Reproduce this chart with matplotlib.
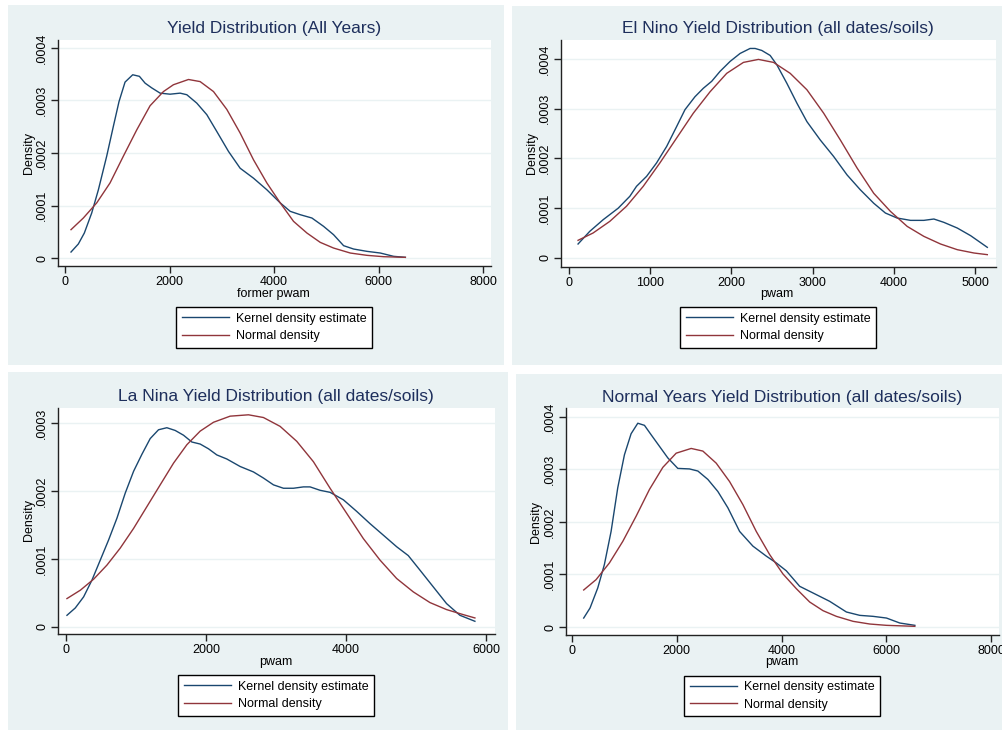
import matplotlib
matplotlib.use("Agg")
import matplotlib.pyplot as plt
from matplotlib.patches import Rectangle
from matplotlib.ticker import FixedLocator, FixedFormatter

plt.rcParams['font.family'] = ['Liberation Sans', 'DejaVu Sans']

W, H = 1003, 730

# ---------------- data ----------------
titles = ["Yield Distribution (All Years)",
          "El Nino Yield Distribution (all dates/soils)",
          "La Nina Yield Distribution (all dates/soils)",
          "Normal Years Yield Distribution (all dates/soils)"]
xlabels = ["former pwam", "pwam", "pwam", "pwam"]
legend_labels = ["Kernel density estimate", "Normal density"]

xticks1 = [0, 2000, 4000, 6000, 8000]
xticks2 = [0, 1000, 2000, 3000, 4000, 5000]
xticks3 = [0, 2000, 4000, 6000]
xticks4 = [0, 2000, 4000, 6000, 8000]
yticks4v = [0, 0.0001, 0.0002, 0.0003, 0.0004]
yticks4l = ["0", ".0001", ".0002", ".0003", ".0004"]
yticks3v = [0, 0.0001, 0.0002, 0.0003]
yticks3l = ["0", ".0001", ".0002", ".0003"]

# Panel 1: all years
kde1_x = [115, 255, 370, 511, 639, 798, 926, 1034, 1149, 1296, 1424, 1533, 1660, 1820,
          2011, 2203, 2331, 2522, 2714, 2905, 3129, 3352, 3608, 3863, 4119, 4310, 4502,
          4725, 4949, 5140, 5332, 5524, 5779, 6035, 6290, 6514]
kde1_y = [0.0000114, 0.0000267, 0.0000476, 0.0000857, 0.00013, 0.000194, 0.000251, 0.000298,
          0.000335, 0.000349, 0.000346, 0.000333, 0.000324, 0.000314, 0.000312, 0.000314,
          0.000311, 0.000295, 0.000273, 0.000241, 0.000203, 0.000171, 0.000152, 0.00013,
          0.000105, 0.0000889, 0.0000825, 0.0000762, 0.0000603, 0.0000444, 0.0000235,
          0.0000171, 0.0000127, 0.0000095, 0.0000032, 0.0000013]
nrm1_x = [115, 351, 607, 862, 1117, 1373, 1628, 1884, 2075, 2363, 2586, 2842, 3097, 3352,
          3608, 3863, 4119, 4374, 4630, 4885, 5140, 5460, 5779, 6099, 6514]
nrm1_y = [0.000054, 0.0000762, 0.000105, 0.000143, 0.000194, 0.000244, 0.00029, 0.000317,
          0.00033, 0.00034, 0.000336, 0.000317, 0.000283, 0.000238, 0.000187, 0.000143,
          0.000105, 0.0000698, 0.0000476, 0.0000298, 0.000019, 0.0000095, 0.0000051,
          0.0000025, 0.0000013]

# Panel 2: El Nino
kde2_x = [111, 255, 420, 605, 749, 831, 955, 1078, 1202, 1325, 1428, 1551, 1654, 1757, 1860,
          1984, 2107, 2230, 2292, 2374, 2477, 2560, 2683, 2807, 2930, 3095, 3259, 3424, 3588,
          3753, 3897, 4041, 4206, 4370, 4494, 4617, 4782, 4947, 5152]
kde2_y = [0.0000281, 0.0000535, 0.0000769, 0.0001, 0.000124, 0.000144, 0.000164, 0.000191,
          0.000224, 0.000264, 0.000298, 0.000324, 0.000341, 0.000355, 0.000375, 0.000395,
          0.000411, 0.000421, 0.000421, 0.000417, 0.000407, 0.000388, 0.000351, 0.000311,
          0.000274, 0.000237, 0.000204, 0.000167, 0.000137, 0.00011, 0.0000903, 0.0000803,
          0.0000756, 0.0000756, 0.0000783, 0.0000716, 0.0000602, 0.0000448, 0.0000214]
nrm2_x = [111, 296, 502, 708, 914, 1119, 1325, 1531, 1737, 1942, 2148, 2333, 2519, 2724, 2930,
          3136, 3342, 3547, 3753, 3959, 4165, 4370, 4576, 4782, 4988, 5152]
nrm2_y = [0.0000355, 0.0000502, 0.0000736, 0.000104, 0.000144, 0.000191, 0.000241, 0.000291,
          0.000334, 0.000371, 0.000393, 0.000399, 0.000393, 0.000371, 0.000338, 0.000291,
          0.000237, 0.000181, 0.00013, 0.0000936, 0.0000635, 0.0000435, 0.0000281,
          0.0000167, 0.00001, 0.0000067]

# Panel 3: La Nina
kde3_x = [14, 133, 252, 371, 490, 609, 728, 847, 966, 1085, 1203, 1322, 1441, 1560, 1679,
          1798, 1917, 2036, 2155, 2298, 2488, 2678, 2821, 2964, 3107, 3249, 3392, 3487, 3630,
          3773, 3963, 4153, 4343, 4534, 4724, 4890, 5057, 5247, 5437, 5628, 5842]
kde3_y = [0.0000172, 0.000028, 0.0000443, 0.0000689, 0.0000984, 0.000128, 0.00016, 0.000197,
          0.000229, 0.000254, 0.000277, 0.00029, 0.000293, 0.000289, 0.000282, 0.000272,
          0.000269, 0.000262, 0.000253, 0.000247, 0.000236, 0.000228, 0.000219, 0.000209,
          0.000204, 0.000204, 0.000206, 0.000206, 0.000201, 0.000198, 0.000187, 0.00017,
          0.000152, 0.000135, 0.000118, 0.000105, 0.0000836, 0.000059, 0.0000344,
          0.0000172, 0.0000084]
nrm3_x = [14, 205, 395, 585, 775, 966, 1156, 1346, 1537, 1727, 1917, 2107, 2345, 2607, 2821,
          3059, 3297, 3535, 3773, 4011, 4248, 4486, 4724, 4962, 5200, 5437, 5675, 5842]
nrm3_y = [0.0000418, 0.0000541, 0.0000703, 0.000091, 0.000116, 0.000145, 0.000177, 0.000209,
          0.000241, 0.000268, 0.000288, 0.000301, 0.00031, 0.000312, 0.000308, 0.000295,
          0.000273, 0.000243, 0.000204, 0.000167, 0.00013, 0.0000984, 0.0000713, 0.0000516,
          0.0000359, 0.0000256, 0.0000182, 0.0000133]

# Panel 4: normal years
kde4_x = [223, 344, 491, 618, 746, 873, 1001, 1128, 1256, 1383, 1511, 1670, 1829, 2020, 2243,
          2403, 2594, 2785, 2976, 3200, 3454, 3709, 3901, 4092, 4347, 4602, 4920, 5239, 5494,
          5749, 6004, 6259, 6546]
kde4_y = [0.0000171, 0.0000362, 0.0000743, 0.000119, 0.000182, 0.000265, 0.000328, 0.000368,
          0.000388, 0.000384, 0.000366, 0.000344, 0.000322, 0.000302, 0.000301, 0.000297,
          0.000281, 0.000258, 0.000227, 0.000182, 0.000154, 0.000135, 0.000122, 0.000107,
          0.0000775, 0.0000648, 0.0000489, 0.0000286, 0.0000222, 0.0000203, 0.0000171,
          0.0000076, 0.0000032]
nrm4_x = [223, 459, 714, 969, 1224, 1479, 1734, 1989, 2275, 2498, 2753, 3008, 3263, 3518,
          3773, 4028, 4283, 4538, 4793, 5048, 5367, 5686, 6004, 6546]
nrm4_y = [0.0000705, 0.0000902, 0.000122, 0.000163, 0.000211, 0.000262, 0.000304, 0.000331,
          0.00034, 0.000335, 0.000312, 0.000277, 0.000233, 0.000182, 0.000138, 0.000101,
          0.000073, 0.0000476, 0.0000311, 0.0000203, 0.0000108, 0.0000057, 0.0000032,
          0.0000013]

# ---------------- styling ----------------
BG = "#EAF2F3"
BLUE = "#1A476F"
RED = "#90353B"
TITLE_C = "#1E2F5C"
AX_C = "#222222"

fig = plt.figure(figsize=(W / 100, H / 100), dpi=100, facecolor="white")


def fx(px):
    return px / W


def fy(py):
    return 1 - py / H


# panel backgrounds (pixel boxes: left, top, right, bottom)
bg_boxes = [(8, 5, 504, 365), (512, 6, 1003, 365), (8, 372, 508, 730), (516, 374, 1003, 730)]
for (l, t, r, b) in bg_boxes:
    fig.patches.append(Rectangle((fx(l), fy(b)), fx(r - l), (b - t) / H,
                                 transform=fig.transFigure, facecolor=BG,
                                 edgecolor="none", zorder=-10))

panels = [
    dict(box=(58, 40, 491, 266), xlim=(-134, 8153), ylim=(-0.0000152, 0.0004152),
         xt=xticks1, yv=yticks4v, yl=yticks4l, kx=kde1_x, ky=kde1_y, nx=nrm1_x, ny=nrm1_y,
         title_xy=(274, 29), xlab_xy=(273, 294), ylab_xy=(29, 153), leg_xy=(274, 327.5)),
    dict(box=(561, 40, 996, 267), xlim=(-99, 5259), ylim=(-0.0000181, 0.000438),
         xt=xticks2, yv=yticks4v, yl=yticks4l, kx=kde2_x, ky=kde2_y, nx=nrm2_x, ny=nrm2_y,
         title_xy=(777.5, 29), xlab_xy=(777, 294), ylab_xy=(532, 153), leg_xy=(778, 327.5)),
    dict(box=(58, 408, 495, 634), xlim=(-114, 6129), ylim=(-0.0000103, 0.000322),
         xt=xticks3, yv=yticks3v, yl=yticks3l, kx=kde3_x, ky=kde3_y, nx=nrm3_x, ny=nrm3_y,
         title_xy=(275.5, 396), xlab_xy=(276, 662), ylab_xy=(29, 520), leg_xy=(276, 695.5)),
    dict(box=(566, 408, 999, 635), xlim=(-115, 8153), ylim=(-0.0000152, 0.000417),
         xt=xticks4, yv=yticks4v, yl=yticks4l, kx=kde4_x, ky=kde4_y, nx=nrm4_x, ny=nrm4_y,
         title_xy=(782, 397), xlab_xy=(782, 662), ylab_xy=(536, 522), leg_xy=(782, 696)),
]

for i, p in enumerate(panels):
    l, t, r, b = p["box"]
    ax = fig.add_axes([fx(l), fy(b), fx(r - l), (b - t) / H], zorder=1)
    ax.set_facecolor("white")
    ax.set_xlim(*p["xlim"])
    ax.set_ylim(*p["ylim"])
    for s in ["top", "right"]:
        ax.spines[s].set_visible(False)
    for s in ["left", "bottom"]:
        ax.spines[s].set_color(AX_C)
        ax.spines[s].set_linewidth(1.0)
    ax.xaxis.set_major_locator(FixedLocator(p["xt"]))
    ax.yaxis.set_major_locator(FixedLocator(p["yv"]))
    ax.yaxis.set_major_formatter(FixedFormatter(p["yl"]))
    ax.tick_params(axis="both", direction="out", length=5, width=1.0, color=AX_C,
                   labelsize=9, labelcolor="black", pad=2)
    for lab in ax.get_yticklabels():
        lab.set_rotation(90)
        lab.set_va("center")
    ax.grid(axis="y", color=BG, linewidth=1.0)
    ax.set_axisbelow(True)
    h1, = ax.plot(p["kx"], p["ky"], color=BLUE, lw=1.0, label=legend_labels[0])
    h2, = ax.plot(p["nx"], p["ny"], color=RED, lw=1.0, label=legend_labels[1])

    fig.text(fx(p["title_xy"][0]), fy(p["title_xy"][1]), titles[i], ha="center", va="center",
             fontsize=12.5, color=TITLE_C)
    fig.text(fx(p["xlab_xy"][0]), fy(p["xlab_xy"][1]), xlabels[i], ha="center", va="center",
             fontsize=9, color="black")
    fig.text(fx(p["ylab_xy"][0]), fy(p["ylab_xy"][1]), "Density", ha="center", va="center",
             rotation=90, fontsize=9, color="black")
    leg = fig.legend(handles=[h1, h2], loc="center",
                     bbox_to_anchor=(fx(p["leg_xy"][0]), fy(p["leg_xy"][1])),
                     bbox_transform=fig.transFigure, frameon=True, fancybox=False,
                     edgecolor="black", framealpha=1, fontsize=9, handlelength=3.75,
                     handletextpad=0.55, borderpad=0.45, labelspacing=0.45, borderaxespad=0)
    leg.get_frame().set_linewidth(1.0)
    leg.set_zorder(5)

fig.savefig("out.png", dpi=100, facecolor="white")
